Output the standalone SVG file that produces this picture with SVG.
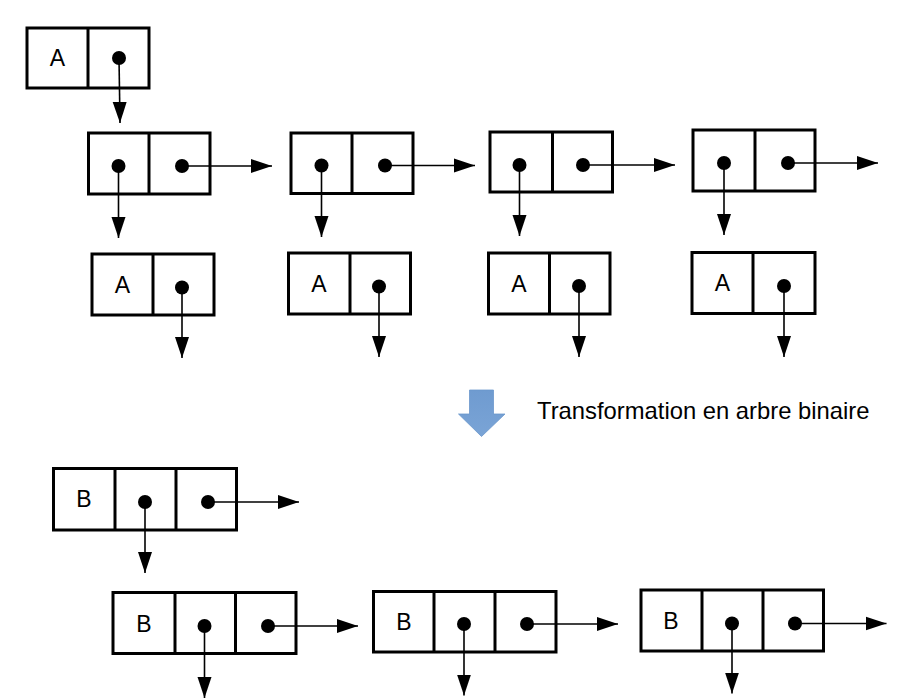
<svg xmlns="http://www.w3.org/2000/svg" width="910" height="700" viewBox="0 0 910 700">
<defs>
<marker id="ah" markerUnits="userSpaceOnUse" markerWidth="22" markerHeight="16" refX="21" refY="7" orient="auto" viewBox="0 0 22 14">
<path d="M0,0 L21,7 L0,14 z" fill="#000"/>
</marker>
<linearGradient id="bg" x1="0" y1="0" x2="0" y2="1">
<stop offset="0" stop-color="#6f9bd0"/>
<stop offset="1" stop-color="#7aa4d6"/>
</linearGradient>
<style>
.box{fill:#fff;stroke:#000;stroke-width:3;stroke-linejoin:miter}
.div{stroke:#000;stroke-width:3}
.dot{fill:#000}
.lbl{font-family:"Liberation Sans",Arial,sans-serif;font-size:23px;fill:#000;text-anchor:middle}
.ln{stroke:#000;stroke-width:1.6;fill:none;marker-end:url(#ah)}
</style>
</defs>
<rect width="910" height="700" fill="#fff"/>

<!-- nodes -->
<g id="topA">
<rect class="box" x="27" y="28" width="122" height="60"/>
<line class="div" x1="88" y1="28" x2="88" y2="88"/>
<text class="lbl" x="57.5" y="66.2">A</text>
<circle class="dot" cx="119" cy="58" r="7"/>
</g>

<g id="r2n1">
<rect class="box" x="88.5" y="133" width="121.5" height="61"/>
<line class="div" x1="149" y1="133" x2="149" y2="194"/>
<circle class="dot" cx="118.5" cy="166" r="7"/>
<circle class="dot" cx="182" cy="166" r="7"/>
</g>
<g id="r2n2">
<rect class="box" x="291" y="133" width="122" height="60.5"/>
<line class="div" x1="352" y1="133" x2="352" y2="193.5"/>
<circle class="dot" cx="321.5" cy="165.5" r="7"/>
<circle class="dot" cx="385" cy="165.5" r="7"/>
</g>
<g id="r2n3">
<rect class="box" x="490" y="132" width="122.5" height="60"/>
<line class="div" x1="552.5" y1="132" x2="552.5" y2="192"/>
<circle class="dot" cx="519.5" cy="165" r="7"/>
<circle class="dot" cx="583" cy="165" r="7"/>
</g>
<g id="r2n4">
<rect class="box" x="693" y="130" width="122" height="61"/>
<line class="div" x1="755" y1="130" x2="755" y2="191"/>
<circle class="dot" cx="724" cy="163" r="7"/>
<circle class="dot" cx="788" cy="163" r="7"/>
</g>

<g id="r3n1">
<rect class="box" x="92" y="254" width="122" height="61"/>
<line class="div" x1="153" y1="254" x2="153" y2="315"/>
<text class="lbl" x="122.5" y="292.7">A</text>
<circle class="dot" cx="182" cy="287.5" r="7"/>
</g>
<g id="r3n2">
<rect class="box" x="288.5" y="253" width="122" height="61"/>
<line class="div" x1="350" y1="253" x2="350" y2="314"/>
<text class="lbl" x="319" y="291.7">A</text>
<circle class="dot" cx="379" cy="286.5" r="7"/>
</g>
<g id="r3n3">
<rect class="box" x="488.5" y="253" width="121.5" height="61"/>
<line class="div" x1="549.5" y1="253" x2="549.5" y2="314"/>
<text class="lbl" x="519" y="291.7">A</text>
<circle class="dot" cx="579" cy="286" r="7"/>
</g>
<g id="r3n4">
<rect class="box" x="692" y="252.5" width="123" height="61"/>
<line class="div" x1="753" y1="252.5" x2="753" y2="313.5"/>
<text class="lbl" x="722.5" y="291.2">A</text>
<circle class="dot" cx="784" cy="286" r="7"/>
</g>

<g id="transform">
<polygon points="469.5,390 493.5,390 493.5,414 505,414 481.5,436.5 458.5,414 469.5,414" fill="url(#bg)" stroke="#6b97cc" stroke-width="0.8"/>
<text x="537" y="419" font-family="'Liberation Sans',Arial,sans-serif" font-size="23.8" fill="#000">Transformation en arbre binaire</text>
</g>

<g id="b1">
<rect class="box" x="53.5" y="468.5" width="183" height="61.5"/>
<line class="div" x1="115" y1="468.5" x2="115" y2="530"/>
<line class="div" x1="176" y1="468.5" x2="176" y2="530"/>
<text class="lbl" x="84" y="507.2">B</text>
<circle class="dot" cx="145" cy="502" r="7"/>
<circle class="dot" cx="208" cy="502" r="7"/>
</g>
<g id="b2">
<rect class="box" x="113" y="592.5" width="183" height="61"/>
<line class="div" x1="175" y1="592.5" x2="175" y2="653.5"/>
<line class="div" x1="235.5" y1="592.5" x2="235.5" y2="653.5"/>
<text class="lbl" x="144" y="631.5">B</text>
<circle class="dot" cx="204.5" cy="626" r="7"/>
<circle class="dot" cx="268" cy="626" r="7"/>
</g>
<g id="b3">
<rect class="box" x="373.5" y="591.5" width="182.5" height="60.5"/>
<line class="div" x1="434" y1="591.5" x2="434" y2="652"/>
<line class="div" x1="495" y1="591.5" x2="495" y2="652"/>
<text class="lbl" x="404" y="630">B</text>
<circle class="dot" cx="464" cy="624" r="7"/>
<circle class="dot" cx="527" cy="624" r="7"/>
</g>
<g id="b4">
<rect class="box" x="641" y="590" width="182.5" height="61"/>
<line class="div" x1="702" y1="590" x2="702" y2="651"/>
<line class="div" x1="763" y1="590" x2="763" y2="651"/>
<text class="lbl" x="671" y="628.5">B</text>
<circle class="dot" cx="732" cy="623.5" r="7"/>
<circle class="dot" cx="795" cy="623.5" r="7"/>
</g>

<!-- connectors -->
<g id="connectors">
<line class="ln" x1="119" y1="58" x2="120" y2="123"/>
<line class="ln" x1="182" y1="166" x2="272" y2="166"/>
<line class="ln" x1="118.5" y1="166" x2="118.5" y2="238"/>
<line class="ln" x1="385" y1="165.5" x2="475" y2="165.5"/>
<line class="ln" x1="321.5" y1="165.5" x2="321.5" y2="237"/>
<line class="ln" x1="583" y1="165" x2="675" y2="165"/>
<line class="ln" x1="519.5" y1="165" x2="519.5" y2="236"/>
<line class="ln" x1="788" y1="163" x2="878" y2="163"/>
<line class="ln" x1="724" y1="163" x2="724" y2="235"/>
<line class="ln" x1="182" y1="287.5" x2="182" y2="358"/>
<line class="ln" x1="379" y1="286.5" x2="379" y2="357"/>
<line class="ln" x1="579" y1="286" x2="579" y2="357"/>
<line class="ln" x1="784" y1="286" x2="784" y2="357"/>
<line class="ln" x1="208" y1="502" x2="299" y2="502"/>
<line class="ln" x1="145" y1="502" x2="145" y2="573"/>
<line class="ln" x1="268" y1="626" x2="358" y2="626"/>
<line class="ln" x1="204.5" y1="626" x2="204.5" y2="698"/>
<line class="ln" x1="527" y1="624" x2="618" y2="624"/>
<line class="ln" x1="464" y1="624" x2="464" y2="695.5"/>
<line class="ln" x1="795" y1="623.5" x2="886.5" y2="623.5"/>
<line class="ln" x1="732" y1="623.5" x2="732" y2="693.5"/>
</g>
</svg>
